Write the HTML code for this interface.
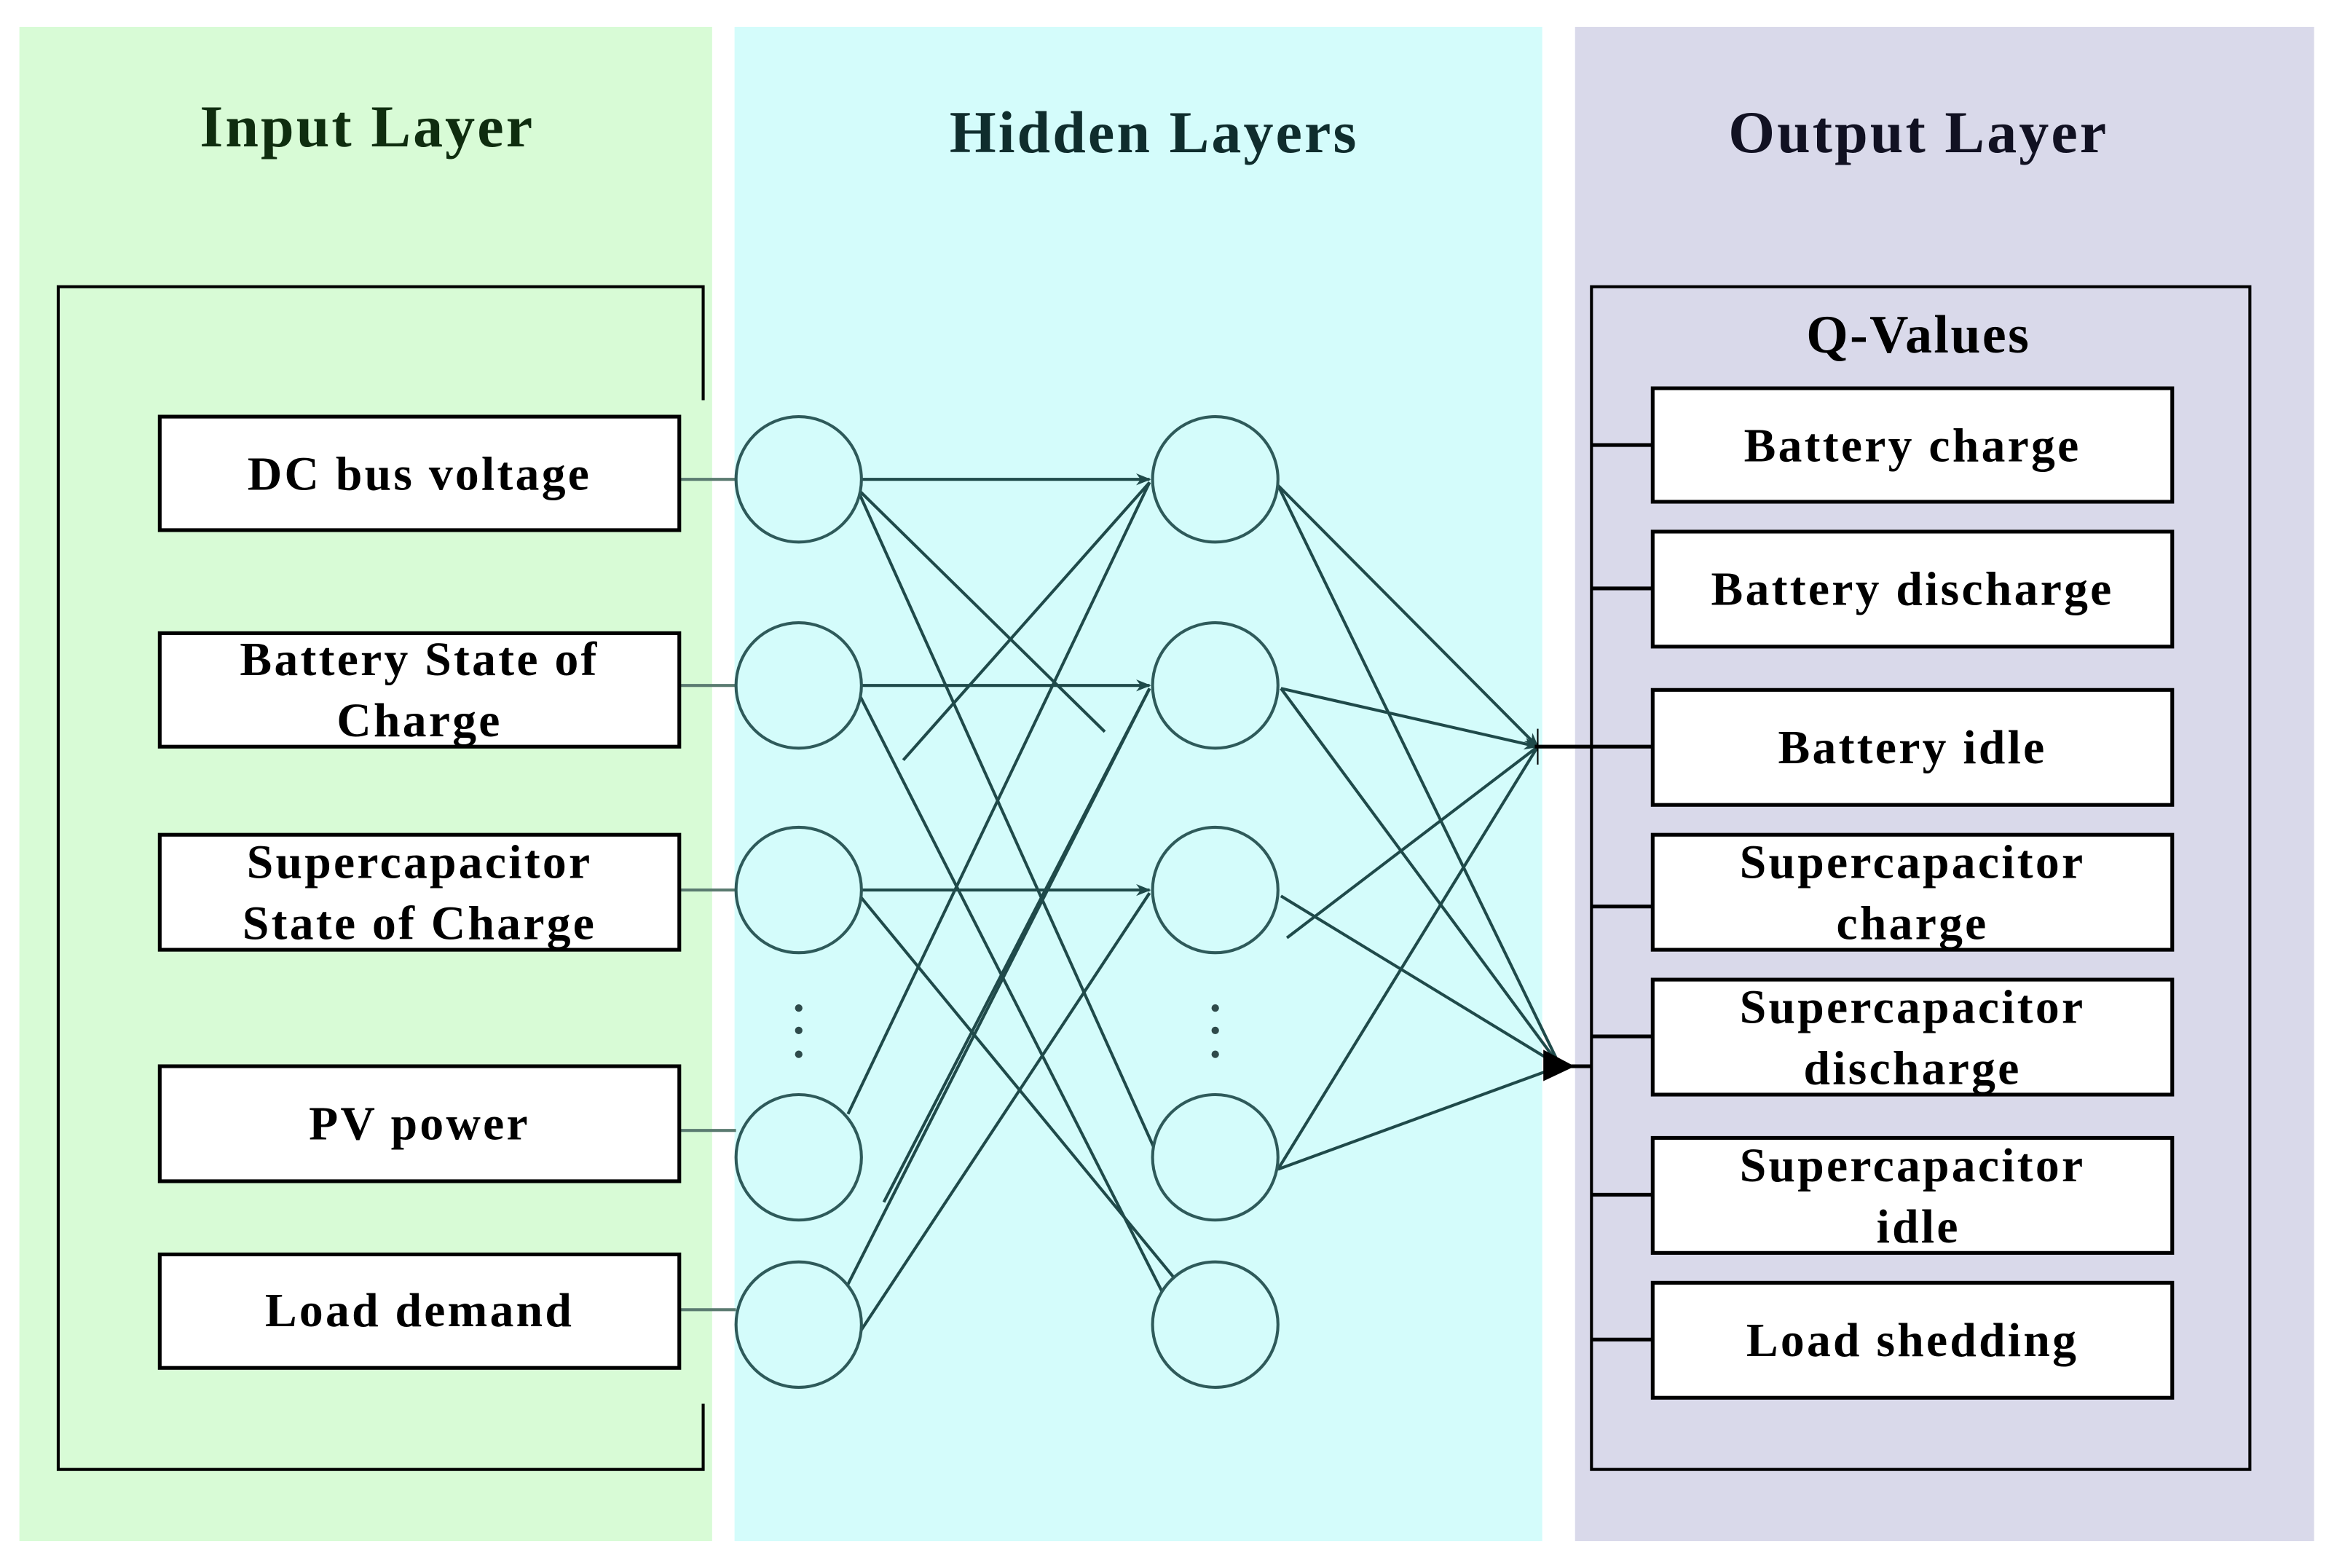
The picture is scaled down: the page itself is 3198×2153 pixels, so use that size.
<!DOCTYPE html>
<html><head><meta charset="utf-8"><style>
html,body{margin:0;padding:0;background:#fff}
svg{display:block}
text{font-family:"Liberation Serif",serif;font-weight:bold;text-anchor:middle}
</style></head><body>
<svg width="3198" height="2153" viewBox="0 0 1560 1050" preserveAspectRatio="none" xmlns="http://www.w3.org/2000/svg">
<defs><marker id="a" markerWidth="10" markerHeight="8" refX="9" refY="4" orient="auto" markerUnits="userSpaceOnUse"><path d="M0,0 L10,4 L0,8 L3,4z" fill="#1f4a4a"/></marker></defs>
<rect width="1560" height="1050" fill="#fff"/>
<rect x="13" y="18" width="464" height="1014" fill="#d8fbd6"/>
<rect x="492" y="18" width="541" height="1014" fill="#d4fcfb"/>
<rect x="1055" y="18" width="495" height="1014" fill="#d9d9ea"/>
<text x="246" y="98" font-size="40" letter-spacing="1.5" fill="#0f2d0f">Input Layer</text>
<text x="773" y="102" font-size="40" letter-spacing="1.5" fill="#0f2d2d">Hidden Layers</text>
<text x="1285" y="102" font-size="40" letter-spacing="1.5" fill="#111122">Output Layer</text>
<g stroke="#000" stroke-width="2" fill="none">
<path d="M471,268 V192 H39 V984 H471 V940"/>
<rect x="1066" y="192" width="441" height="792"/>
</g>
<g stroke="#5a7a70" stroke-width="2">
<line x1="455" y1="321" x2="493" y2="321"/><line x1="455" y1="459" x2="493" y2="459"/><line x1="455" y1="596" x2="493" y2="596"/><line x1="455" y1="757" x2="493" y2="757"/><line x1="455" y1="877" x2="493" y2="877"/>
</g>
<g fill="#fff" stroke="#000" stroke-width="2.5">
<rect x="107" y="279" width="348" height="76"/><rect x="107" y="424" width="348" height="76"/><rect x="107" y="559" width="348" height="77"/><rect x="107" y="714" width="348" height="77"/><rect x="107" y="840" width="348" height="76"/>
</g>
<g font-size="32" letter-spacing="1.6" fill="#000">
<text x="281" y="328">DC bus voltage</text>
<text x="281" y="452">Battery State of</text><text x="281" y="493">Charge</text>
<text x="281" y="588">Supercapacitor</text><text x="281" y="629">State of Charge</text>
<text x="281" y="763">PV power</text>
<text x="281" y="888">Load demand</text>
</g>
<g stroke="#1f4a4a" stroke-width="2" fill="none">
<line x1="576" y1="321" x2="770" y2="321" marker-end="url(#a)"/>
<line x1="576" y1="459" x2="770" y2="459" marker-end="url(#a)"/>
<line x1="576" y1="596" x2="770" y2="596" marker-end="url(#a)"/>
<line x1="574" y1="327" x2="740" y2="490"/>
<line x1="574" y1="327" x2="779" y2="782"/>
<line x1="574" y1="462" x2="786" y2="880"/>
<line x1="605" y1="509" x2="770" y2="323"/>
<line x1="576" y1="600" x2="790" y2="860"/>
<line x1="568" y1="746" x2="770" y2="323"/>
<line x1="568" y1="860" x2="770" y2="461"/>
<line x1="592" y1="805" x2="770" y2="461"/>
<line x1="576" y1="892" x2="770" y2="598"/>
<line x1="856" y1="325" x2="1030" y2="500" marker-end="url(#a)"/>
<line x1="856" y1="325" x2="1045" y2="714"/>
<line x1="858" y1="461" x2="1030" y2="500" marker-end="url(#a)"/>
<line x1="858" y1="461" x2="1045" y2="714"/>
<line x1="858" y1="600" x2="1045" y2="714"/>
<line x1="862" y1="628" x2="1030" y2="500"/>
<line x1="856" y1="783" x2="1030" y2="500"/>
<line x1="856" y1="783" x2="1045" y2="714"/>
</g>
<g fill="#d4fcfb" stroke="#2e5a5a" stroke-width="2">
<circle cx="535" cy="321" r="42"/><circle cx="535" cy="459" r="42"/><circle cx="535" cy="596" r="42"/><circle cx="535" cy="775" r="42"/><circle cx="535" cy="887" r="42"/>
<circle cx="814" cy="321" r="42"/><circle cx="814" cy="459" r="42"/><circle cx="814" cy="596" r="42"/><circle cx="814" cy="775" r="42"/><circle cx="814" cy="887" r="42"/>
</g>
<g fill="#2e4a4a"><circle cx="535" cy="675" r="2.5"/><circle cx="535" cy="690" r="2.5"/><circle cx="535" cy="706" r="2.5"/>
<circle cx="814" cy="675" r="2.5"/><circle cx="814" cy="690" r="2.5"/><circle cx="814" cy="706" r="2.5"/></g>
<g stroke="#000" stroke-width="2.5">
<line x1="1028" y1="500" x2="1107" y2="500"/><line x1="1030" y1="488" x2="1030" y2="512" stroke-width="1"/>
<line x1="1045" y1="714" x2="1066" y2="714"/>
<path d="M1035,705 L1052,714 L1035,722z" fill="#000"/>
<line x1="1066" y1="298" x2="1107" y2="298"/><line x1="1066" y1="394" x2="1107" y2="394"/>
<line x1="1066" y1="607" x2="1107" y2="607"/><line x1="1066" y1="694" x2="1107" y2="694"/>
<line x1="1066" y1="800" x2="1107" y2="800"/><line x1="1066" y1="897" x2="1107" y2="897"/>
</g>
<text x="1285" y="236" font-size="36" letter-spacing="1.2" fill="#000">Q-Values</text>
<g fill="#fff" stroke="#000" stroke-width="2.5">
<rect x="1107" y="260" width="348" height="76"/><rect x="1107" y="356" width="348" height="77"/><rect x="1107" y="462" width="348" height="77"/><rect x="1107" y="559" width="348" height="77"/><rect x="1107" y="656" width="348" height="77"/><rect x="1107" y="762" width="348" height="77"/><rect x="1107" y="859" width="348" height="77"/>
</g>
<g font-size="32" letter-spacing="1.6" fill="#000">
<text x="1281" y="309">Battery charge</text>
<text x="1281" y="405">Battery discharge</text>
<text x="1281" y="511">Battery idle</text>
<text x="1281" y="588">Supercapacitor</text><text x="1281" y="629">charge</text>
<text x="1281" y="685">Supercapacitor</text><text x="1281" y="726">discharge</text>
<text x="1281" y="791">Supercapacitor</text><text x="1285" y="832">idle</text>
<text x="1281" y="908">Load shedding</text>
</g>
</svg>
</body></html>
